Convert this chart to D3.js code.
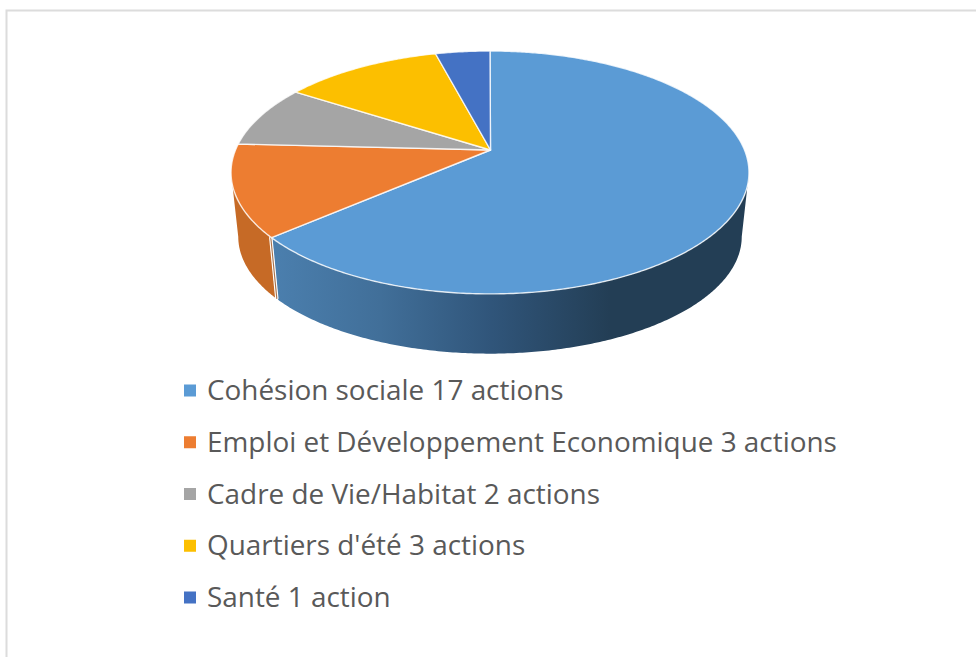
<!DOCTYPE html>
<html><head><meta charset="utf-8">
<script src="https://cdn.jsdelivr.net/npm/d3@7"></script>
<style>html,body{margin:0;padding:0;background:#fff;overflow:hidden}svg{display:block}</style>
</head><body><svg id="c" width="976" height="657"></svg>
<script>
const categories = ["Cohésion sociale","Emploi et Développement Economique","Cadre de Vie/Habitat","Quartiers d'été","Santé"];
const actionLabels = ["17 actions","3 actions","2 actions","3 actions","1 action"];
// Slice shares as drawn in the picture (percent of the full turn)
const shares = [63.6,12.22,8.3,11.82,4.06];
const colors = ["#5b9bd5","#ed7d31","#a5a5a5","#fcbf00","#4472c4"];
const sideColor = "#c66a26";

const svg = d3.select("#c");
const defs = svg.append("defs");

// frame
svg.append("path").attr("d","M6.5 657V10.5H976").attr("fill","none").attr("stroke","#dcdcdc").attr("stroke-width",2);

// perspective model of the disc
const p = 0.185;
const topDisc = {x:d3.scaleLinear().domain([-1,1]).range([490-254.5,490+254.5]),
                 y:d3.scaleLinear().domain([-1,1]).range([150+117.3,150-117.3])};
const botDisc = {x:d3.scaleLinear().domain([-1,1]).range([490-247.4,490+247.4]),
                 y:d3.scaleLinear().domain([-1,1]).range([215+113,215-113])};
const proj = (disc,a)=>{const w=1+p*Math.cos(a);return [disc.x(Math.sin(a)/w),disc.y(Math.cos(a)/w)];};
const line = d3.line();
const arcPts = (disc,a0,a1)=>{const n=Math.max(2,Math.ceil(Math.abs(a1-a0)/0.01));
  return d3.range(n+1).map(i=>proj(disc,a0+(a1-a0)*i/n));};
const rad = d=>d*Math.PI/180;

const pie = d3.pie().sort(null).value(d=>d);
const arcs = pie(shares);
const silhouetteR = Math.PI-Math.acos(p), silhouetteL = Math.PI+Math.acos(p);
const boundary = arcs[0].endAngle;

// gradient for the big side wall
const grad = defs.append("linearGradient").attr("id","blueSide").attr("gradientUnits","userSpaceOnUse")
  .attr("x1",272).attr("x2",610).attr("y1",0).attr("y2",0);
[[0,"#4b7fae"],[0.32,"#416f99"],[0.65,"#30557a"],[1,"#233e55"]].forEach(s=>grad.append("stop").attr("offset",s[0]).attr("stop-color",s[1]));

const side = (a0,a1)=>line(arcPts(topDisc,a0,a1).concat(arcPts(botDisc,a1,a0)))+"Z";

// side walls
svg.append("path").attr("d",side(boundary+rad(0.75),silhouetteL)).attr("fill",sideColor);
svg.append("path").attr("d",side(silhouetteR,boundary-rad(0.2))).attr("fill","url(#blueSide)");
// cut between the two walls
const wall = line([proj(topDisc,boundary+rad(0.28)),proj(botDisc,boundary+rad(0.28))]);
svg.append("path").attr("d",wall).attr("stroke","#fff").attr("stroke-width",3.4).attr("fill","none");
svg.append("path").attr("d",wall).attr("stroke","#a8714a").attr("stroke-width",1.1).attr("fill","none");

// top faces
const apex = [topDisc.x(0)+0.5,topDisc.y(0)];
svg.selectAll("path.slice").data(arcs).join("path").attr("class","slice")
  .attr("d",d=>line([apex].concat(arcPts(topDisc,d.startAngle,d.endAngle)))+"Z")
  .attr("fill",(d,i)=>colors[i])
  .attr("stroke","#fff").attr("stroke-opacity",0.8).attr("stroke-width",1.4).attr("stroke-linejoin","round");

// legend
const legY = d3.scalePoint().domain(categories).range([400,607]);
const leg = svg.selectAll("g.leg").data(categories).join("g").attr("class","leg");
leg.append("rect").attr("x",184).attr("y",d=>legY(d)-15.5).attr("width",12).attr("height",12).attr("fill",(d,i)=>colors[i]);
leg.append("text").attr("x",207).attr("y",d=>legY(d))
  .attr("font-family","'Open Sans',sans-serif").attr("font-size",27.9).attr("fill","#595959")
  .text((d,i)=>d+" "+actionLabels[i]);
</script></body></html>
